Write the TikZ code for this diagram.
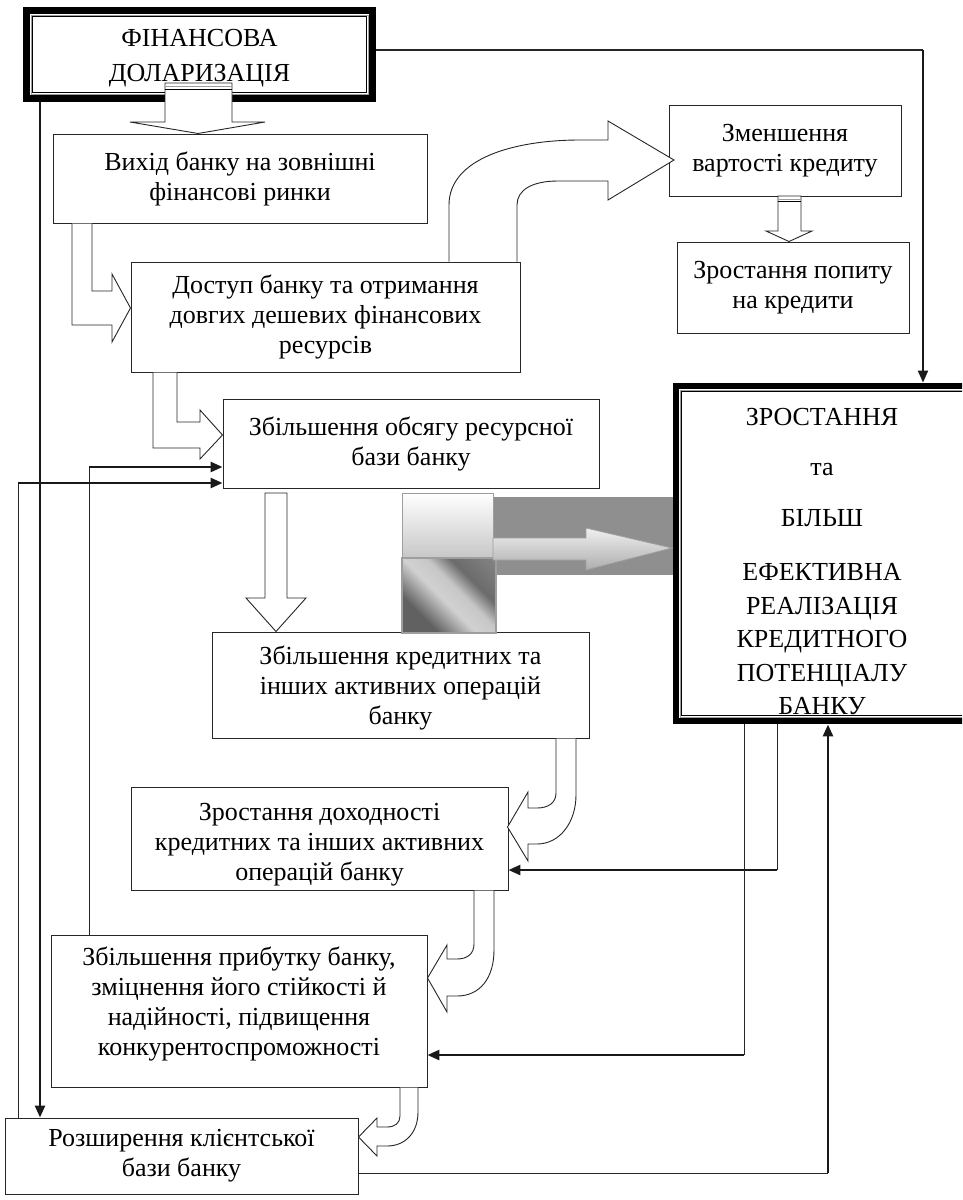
\documentclass[tikz,border=0pt]{standalone}
\usepackage{fontspec}
\setmainfont{Liberation Serif}
\usetikzlibrary{calc}
\usetikzlibrary{arrows.meta}

\definecolor{bandgray}{gray}{0.56}
\definecolor{edgegray}{gray}{0.62}
\def\thinline{0.9pt}
\def\thickline{2.6pt}
\tikzstyle{box}=[draw=black!85, line width=\thinline, inner sep=0pt, align=center, font=\fontsize{26}{30}\selectfont]
\tikzset{block/.style={draw=black!85, fill=white, line width=\thinline, line join=miter}}
\tikzset{link/.style={draw=black!85, line width=\thinline}}
\tikzset{heavy link/.style={draw=black!90, line width=\thickline, -{Triangle[length=12pt,width=10pt]}}}
\pgfdeclarehorizontalshading{metal}{100bp}{color(0bp)=(black!62); color(30bp)=(black!62); color(46bp)=(black!18); color(56bp)=(black!22); color(66bp)=(black!58); color(100bp)=(black!40)}

\begin{document}
\begin{tikzpicture}[x=1pt,y=-1pt] %% 1pt = 1px of the scan

\path[use as bounding box] (0,0) rectangle (962,1200);
\clip (0,0) rectangle (962,1200);

%% boxes
\node[box, draw=none, minimum width=353pt, minimum height=95pt, text height=59pt, font=\fontsize{26}{35}\selectfont] (fin) at (199.5,54.5) {ФІНАНСОВА\\ДОЛАРИЗАЦІЯ};
\node[box, minimum width=374pt, minimum height=89pt] (exit) at (240,178.5) {Вихід банку на зовнішні\\фінансові ринки};
\node[box, minimum width=389pt, minimum height=110pt] (access) at (325.5,317) {Доступ банку та отримання\\довгих дешевих фінансових\\ресурсів};
\node[box, minimum width=376pt, minimum height=89pt] (base) at (411,443.5) {Збільшення обсягу ресурсної\\бази банку};
\node[box, minimum width=232pt, minimum height=91pt] (cheap) at (785,150.5) {Зменшення\\вартості кредиту};
\node[box, minimum width=232pt, minimum height=91pt] (demand) at (793,287.5) {Зростання попиту\\на кредити};
\node[box, draw=none, minimum width=307pt, minimum height=341pt] (big) at (826.5,553.5) {};
\node[box, draw=none, anchor=north, font=\fontsize{26}{33.5}\selectfont] (bigtext) at (822,408)
  {ЗРОСТАННЯ\\[16.5pt]та\\[17.5pt]БІЛЬШ\\[20.5pt]ЕФЕКТИВНА\\РЕАЛІЗАЦІЯ\\КРЕДИТНОГО\\ПОТЕНЦІАЛУ\\БАНКУ};
\node[box, minimum width=377pt, minimum height=106pt, text height=84pt] (credit) at (400.5,685) {Збільшення кредитних та\\інших активних операцій\\банку};
\node[box, minimum width=377pt, minimum height=103pt, text height=90pt] (income) at (319.5,838.5) {Зростання доходності\\кредитних та інших активних\\операцій банку};
\node[box, minimum width=376pt, minimum height=152pt, text depth=20pt] (profit) at (239,1011) {Збільшення прибутку банку,\\зміцнення його стійкості й\\надійності, підвищення\\конкурентоспроможності};
\node[box, minimum width=353pt, minimum height=76pt] (clients) at (181.5,1156) {Розширення клієнтської\\бази банку};

%% heavy frames
\draw[line width=7pt] ($(fin.north west)+(3.5,3.5)$) rectangle ($(fin.south east)-(3.5,3.5)$);
\draw[edgegray, line width=0.8pt] ($(fin.north west)+(8.5,8.5)$) rectangle ($(fin.south east)-(8.5,8.5)$);
\draw[line width=\thinline] ($(fin.north west)+(10,10)$) rectangle ($(fin.south east)-(10,10)$);
\draw[line width=6pt] ($(big.north west)+(3,3)$) rectangle ($(big.south east)-(3,3)$);
\draw[edgegray, line width=0.8pt] ($(big.north west)+(7.5,7.5)$) rectangle ($(big.south east)-(7.5,7.5)$);
\draw[line width=\thinline] ($(big.north west)+(9,9)$) rectangle ($(big.south east)-(9,9)$);

%% hollow block arrows
\path[block] (165,83) -- (165,122) -- (130,122) -- (198,133.5) -- (265,122) -- (232,122) -- (232,83) -- cycle;
\draw[edgegray, line width=0.8pt] (165,86.5) -- (232,86.5);
\draw[line width=\thinline] (165,89) -- (232,89);
\path[block] (778,196) -- (778,231) -- (766,231) -- (789,241.5) -- (812,231) -- (801,231) -- (801,196) -- cycle;
\draw[edgegray, line width=0.8pt] (778,199) -- (801,199);
\draw[line width=\thinline] (778,201.5) -- (801,201.5);
\path[block] (72,223.5) -- (72,325) -- (112,325) -- (112,342) -- (130.5,308) -- (112,274) -- (112,291) -- (92,291) -- (92,223.5);
\path[block] (153,372.5) -- (153,448) -- (200,448) -- (200,459) -- (222.5,435) -- (200,410) -- (200,422) -- (177,422) -- (177,372.5);
\path[block] (265,493) -- (265,598) -- (246,598) -- (276,631.5) -- (306,598) -- (287,598) -- (287,493) -- cycle;
\path[block] (449,261.5) -- (449,205) .. controls (449,158) and (515,140) .. (580,140) -- (608,140) -- (608,121)
  -- (674,160) -- (608,200) -- (608,181) -- (558,181) .. controls (532,181) and (517,190) .. (517,205) -- (517,261.5);
\path[block] (556,738.5) -- (556,793) .. controls (556,803) and (548,808) .. (537,808) -- (528,808) -- (528,792)
  -- (507.5,827) -- (528,861) -- (528,844) -- (537,844) .. controls (560,844) and (576,822) .. (576,795) -- (576,738.5);
\path[block] (474,890.5) -- (474,944) .. controls (474,954) and (467,959) .. (457,959) -- (447,959) -- (447,945)
  -- (427.5,978) -- (447,1012) -- (447,996) -- (457,996) .. controls (480,996) and (494,978) .. (494,950) -- (494,890.5);
\path[block] (400,1087.5) -- (400,1116) .. controls (400,1123) and (395,1127) .. (387,1127) -- (377,1127) -- (377,1118)
  -- (358.5,1137) -- (377,1156) -- (377,1146) -- (387,1146) .. controls (405,1146) and (418,1133) .. (418,1112) -- (418,1087.5);

%% grey block arrow
\fill[bandgray] (493,497) rectangle (673,575);
\shade[top color=white, bottom color=black!22, draw=edgegray, line width=1pt] (402,493) rectangle (493,558);
\shade[shading=metal, shading angle=45, draw=edgegray, line width=1.2pt] (402,558) rectangle (496,633);
\shade[top color=black!6, bottom color=black!32, draw=edgegray, line width=0.8pt]
  (493,538) -- (586,538) -- (586,528) -- (672,548) -- (586,570) -- (586,560) -- (493,560) -- cycle;

%% connectors
\coordinate (ax) at (923,50);
\coordinate (lx) at (40,0);
\coordinate (px) at (89,467);
\coordinate (qx) at (18,483);
\coordinate (ex) at (777,870);
\coordinate (fx) at (744,1055);
\coordinate (gx) at (828,1173);

\draw[link, line width=1.2pt] (ax -| fin.east) -- (ax);
\draw[heavy link, line width=2pt] (ax) -- (ax |- big.north);
\draw[heavy link] (fin.south -| lx) -- (clients.north -| lx);
\draw[link] (profit.north -| px) -- (px);
\draw[heavy link] (px) -- (px -| base.west);
\draw[link] (clients.north -| qx) -- (qx);
\draw[heavy link] (qx) -- (qx -| base.west);
\draw[link] (big.south -| ex) -- (ex);
\draw[heavy link] (ex) -- (ex -| income.east);
\draw[link] (big.south -| fx) -- (fx);
\draw[heavy link] (fx) -- (fx -| profit.east);
\draw[link] (gx -| clients.east) -- (gx);
\draw[heavy link] (gx) -- (gx |- big.south);

\end{tikzpicture}
\end{document}
